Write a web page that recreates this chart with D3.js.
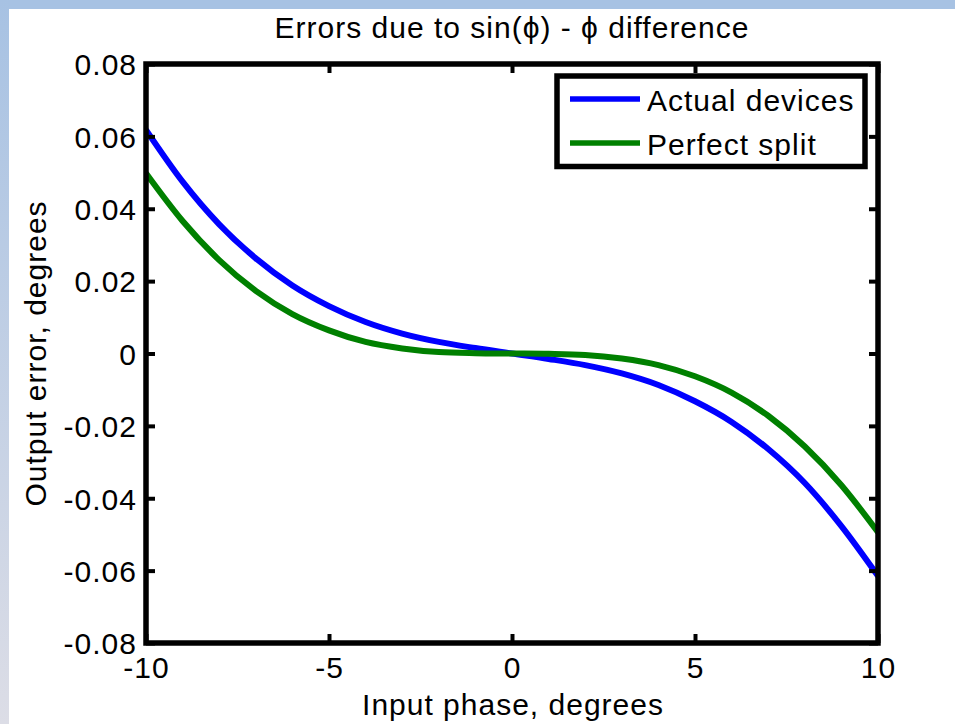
<!DOCTYPE html>
<html>
<head>
<meta charset="utf-8">
<script src="https://cdn.jsdelivr.net/npm/d3@7"></script>
<style>
  html, body { margin: 0; padding: 0; background: #fff; }
  svg { display: block; }
  text { font-family: "Liberation Sans", Arial, sans-serif; font-size: 30px; letter-spacing: 1px; fill: #000; }
</style>
</head>
<body>
<div id="chart"></div>
<script>
// values
const phase = [-10, -9, -8, -7, -6, -5, -4, -3, -2, -1, 0, 1, 2, 3, 4, 5, 6, 7, 8, 9, 10];
const actualDevices = [0.0618, 0.0475, 0.0357, 0.0263, 0.0188, 0.0131, 0.0087, 0.0055, 0.0032, 0.0015, 0,
  -0.0015, -0.0032, -0.0055, -0.0087, -0.0132, -0.0189, -0.0264, -0.0358, -0.0477, -0.0615];
const perfectSplit = [0.0498, 0.0366, 0.0258, 0.0173, 0.0109, 0.0064, 0.0032, 0.0014, 0.0004, 0.0001, 0,
  -0.0001, -0.0004, -0.0014, -0.0032, -0.0063, -0.0108, -0.0172, -0.0257, -0.0364, -0.0494];
const xTicks = [-10, -5, 0, 5, 10];
const yTicks = [-0.08, -0.06, -0.04, -0.02, 0, 0.02, 0.04, 0.06, 0.08];
const seriesNames = ["Actual devices", "Perfect split"];
const seriesColors = ["#0000ff", "#008000"];

const width = 955, height = 724;
const margin = {left: 146, right: 955 - 878, top: 64, bottom: 724 - 643};

const svg = d3.select("#chart").append("svg")
	.attr("width", width)
	.attr("height", height);

// window-ish background strips
const defs = svg.append("defs");
const grad = defs.append("linearGradient")
	.attr("id", "sideGrad")
	.attr("x1", 0).attr("y1", 0).attr("x2", 0).attr("y2", 1);
grad.append("stop").attr("offset", "0%").attr("stop-color", "#a7c2e3");
grad.append("stop").attr("offset", "100%").attr("stop-color", "#dcdde6");

svg.append("rect").attr("width", width).attr("height", height).attr("fill", "#fff");
svg.append("rect").attr("width", width).attr("height", 9).attr("fill", "#a7c2e3");
svg.append("rect").attr("y", 0).attr("width", 9).attr("height", height).attr("fill", "url(#sideGrad)");

const x = d3.scaleLinear()
	.domain([-10, 10])
	.range([margin.left, width - margin.right]);

const y = d3.scaleLinear()
	.domain([-0.08, 0.08])
	.range([height - margin.bottom, margin.top]);

defs.append("clipPath").attr("id", "plotClip")
	.append("rect")
	.attr("x", x(-10)).attr("y", y(0.08))
	.attr("width", x(10) - x(-10)).attr("height", y(-0.08) - y(0.08));

const line = d3.line()
	.x(d => x(d[0]))
	.y(d => y(d[1]))
	.curve(d3.curveMonotoneX);

const series = [actualDevices, perfectSplit];

svg.append("g")
	.attr("clip-path", "url(#plotClip)")
	.selectAll("path")
	.data(series)
	.join("path")
	.attr("fill", "none")
	.attr("stroke", (d, i) => seriesColors[i])
	.attr("stroke-width", 6)
	.attr("d", vals => line(phase.map((p, k) => [p, vals[k]])));

// matlab style labels: plain hyphen for minus
const xFmt = d => String(d);
const yFmt = d => d === 0 ? "0" : (d < 0 ? "-" : "") + Math.abs(d).toFixed(2);

// ticks pointing inward on all four sides
const tickLen = 9;
const xAxisB = d3.axisBottom(x).tickValues(xTicks).tickSize(-tickLen).tickFormat(xFmt);
const xAxisT = d3.axisTop(x).tickValues(xTicks).tickSize(-tickLen).tickFormat("");
const yAxisL = d3.axisLeft(y).tickValues(yTicks).tickSize(-tickLen).tickFormat(yFmt);
const yAxisR = d3.axisRight(y).tickValues(yTicks).tickSize(-tickLen).tickFormat("");

function styleAxis(g) {
	g.select(".domain").remove();
	g.selectAll(".tick line").attr("stroke", "#000").attr("stroke-width", 4);
	g.selectAll(".tick text")
		.style("font-family", "'Liberation Sans', Arial, sans-serif")
		.style("font-size", "30px");
}

svg.append("g").attr("transform", `translate(0,${y(-0.08)})`).call(xAxisB).call(styleAxis)
	.selectAll(".tick text").attr("dy", 0).attr("y", 678 - y(-0.08)).attr("text-anchor", "middle");
svg.append("g").attr("transform", `translate(0,${y(0.08)})`).call(xAxisT).call(styleAxis);
svg.append("g").attr("transform", `translate(${x(-10)},0)`).call(yAxisL).call(styleAxis)
	.selectAll(".tick text").attr("dy", "0.36em").attr("x", 137 - x(-10)).attr("text-anchor", "end");
svg.append("g").attr("transform", `translate(${x(10)},0)`).call(yAxisR).call(styleAxis);

// box
svg.append("rect")
	.attr("x", x(-10)).attr("y", y(0.08))
	.attr("width", x(10) - x(-10)).attr("height", y(-0.08) - y(0.08))
	.attr("fill", "none")
	.attr("stroke", "#000")
	.attr("stroke-width", 5.5);

// title & labels
svg.append("text")
	.attr("x", (x(-10) + x(10)) / 2).attr("y", 38)
	.attr("text-anchor", "middle")
	.text("Errors due to sin(\u03D5) - \u03D5 difference");

svg.append("text")
	.attr("x", 513).attr("y", 715)
	.attr("text-anchor", "middle")
	.text("Input phase, degrees");

svg.append("text")
	.attr("transform", `translate(46,${(y(0.08) + y(-0.08)) / 2}) rotate(-90)`)
	.attr("text-anchor", "middle")
	.text("Output error, degrees");

// legend
const legend = svg.append("g");
legend.append("rect")
	.attr("x", 557).attr("y", 76)
	.attr("width", 865 - 557).attr("height", 166.5 - 76)
	.attr("fill", "#fff")
	.attr("stroke", "#000")
	.attr("stroke-width", 5.5);

const item = legend.selectAll("g.item")
	.data(seriesNames)
	.join("g")
	.attr("class", "item")
	.attr("transform", (d, i) => `translate(0,${99 + i * 44})`);

item.append("line")
	.attr("x1", 570).attr("x2", 640)
	.attr("stroke", (d, i) => seriesColors[i])
	.attr("stroke-width", 5.5);

item.append("text")
	.attr("x", 647).attr("y", 12)
	.text(d => d);
</script>
</body>
</html>
